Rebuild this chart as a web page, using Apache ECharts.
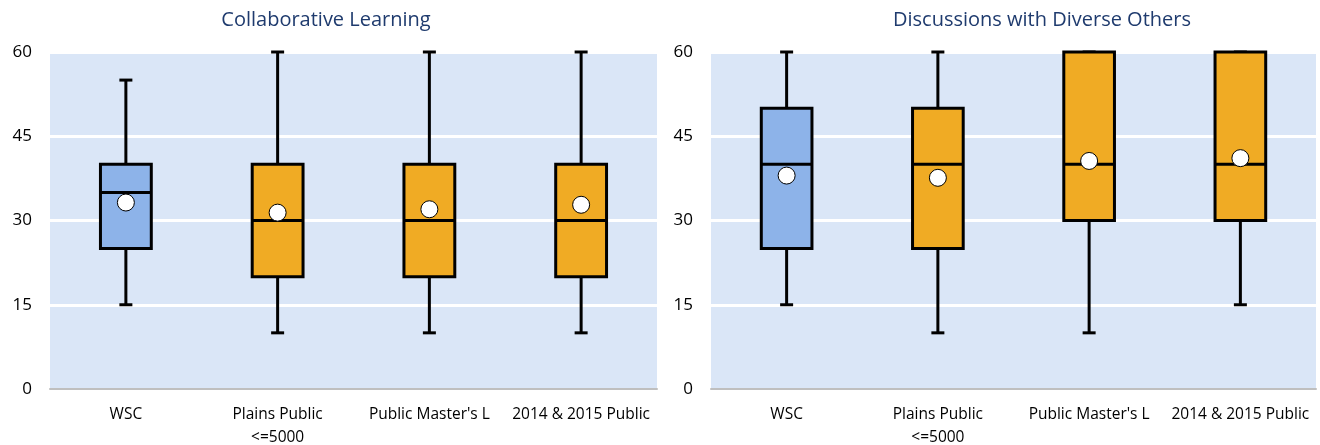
<!DOCTYPE html>
<html>
<head>
<meta charset="utf-8">
<title>Collaborative Learning / Discussions with Diverse Others</title>
<script src="https://cdn.jsdelivr.net/npm/echarts@6/dist/echarts.min.js"></script>
<style>
  html, body { margin: 0; padding: 0; background: #fff; }
  #chart { width: 1320px; height: 445px; }
</style>
</head>
<body>
<div id="chart"></div>
<script>
// Comparison groups shown on both panels
const categories = ['WSC', 'Plains Public\n<=5000', "Public Master's L", '2014 & 2015 Public'];

// Panel titles
const panelTitles = ['Collaborative Learning', 'Discussions with Diverse Others'];

// Box statistics per group: [low whisker, Q1, median, Q3, high whisker]
const collabStats = [
  [15, 25, 35, 40, 55],
  [10, 20, 30, 40, 60],
  [10, 20, 30, 40, 60],
  [10, 20, 30, 40, 60]
];
const collabMeans = [33.2, 31.4, 32.0, 32.8];

const diverseStats = [
  [15, 25, 40, 50, 60],
  [10, 25, 40, 50, 60],
  [10, 30, 40, 60, 60],
  [15, 30, 40, 60, 60]
];
const diverseMeans = [38.0, 37.6, 40.6, 41.1];

// Value axis ticks
const yMin = 0, yMax = 60, yStep = 15;

const FONT = '"Open Sans", "Noto Sans", sans-serif';
const BLUE = '#8DB3E9';
const ORANGE = '#F0AB24';
const LW = 3;

function boxRenderer(params, api) {
  const cat = api.value(0);
  const low = api.coord([cat, api.value(1)]);
  const q1 = api.coord([cat, api.value(2)]);
  const med = api.coord([cat, api.value(3)]);
  const q3 = api.coord([cat, api.value(4)]);
  const high = api.coord([cat, api.value(5)]);
  const band = api.size([1, 0])[0];
  const boxW = band * 0.335;
  const capW = 13;
  const x = med[0];
  const stroke = { stroke: '#000', lineWidth: LW };
  const fill = cat === 0 ? BLUE : ORANGE;
  return {
    type: 'group',
    children: [
      { type: 'line', shape: { x1: x, y1: low[1], x2: x, y2: q1[1] }, style: stroke },
      { type: 'line', shape: { x1: x, y1: q3[1], x2: x, y2: high[1] }, style: stroke },
      { type: 'line', shape: { x1: x - capW / 2, y1: low[1], x2: x + capW / 2, y2: low[1] }, style: stroke },
      { type: 'line', shape: { x1: x - capW / 2, y1: high[1], x2: x + capW / 2, y2: high[1] }, style: stroke },
      { type: 'rect', shape: { x: x - boxW / 2, y: q3[1], width: boxW, height: q1[1] - q3[1] },
        style: { fill: fill, stroke: '#000', lineWidth: LW } },
      { type: 'line', shape: { x1: x - boxW / 2, y1: med[1], x2: x + boxW / 2, y2: med[1] }, style: stroke }
    ]
  };
}

function boxData(stats) {
  return stats.map((s, i) => [i].concat(s));
}

const grids = [
  { left: 50, right: 663, top: 52, bottom: 56 },
  { left: 711, right: 4, top: 52, bottom: 56 }
];

const chart = echarts.init(document.getElementById('chart'), null, { renderer: 'canvas' });

const xAxes = grids.map((g, i) => ({
  type: 'category',
  gridIndex: i,
  data: categories,
  boundaryGap: true,
  axisLine: { show: true, lineStyle: { color: '#BFBFBF', width: 2 } },
  axisTick: { show: false },
  axisLabel: { color: '#000', fontSize: 15.5, fontFamily: FONT, margin: 14, lineHeight: 23, interval: 0 },
  splitLine: { show: false }
}));

const yAxes = grids.map((g, i) => ({
  type: 'value',
  gridIndex: i,
  min: yMin,
  max: yMax,
  interval: yStep,
  axisLine: { show: false },
  axisTick: { show: false },
  axisLabel: { color: '#000', fontSize: 17, fontFamily: FONT, margin: 18, padding: [0, 0, 4, 0] },
  splitLine: { show: true, lineStyle: { color: '#FFFFFF', width: 3 } }
}));

const meanStyle = { color: '#FFFFFF', borderColor: '#000', borderWidth: 1, opacity: 1 };

chart.setOption({
  animation: false,
  backgroundColor: '#fff',
  graphic: [
    { type: 'text', x: 326, y: 20, style: { text: panelTitles[0], fontSize: 20, fontFamily: FONT, fill: '#1F3B6E', align: 'center', verticalAlign: 'middle' } },
    { type: 'text', x: 1042, y: 20, style: { text: panelTitles[1], fontSize: 20, fontFamily: FONT, fill: '#1F3B6E', align: 'center', verticalAlign: 'middle' } }
  ],
  grid: grids.map(g => Object.assign({ show: true, backgroundColor: '#DAE6F7', borderWidth: 0, containLabel: false, outerBoundsMode: 'none' }, g)),
  xAxis: xAxes,
  yAxis: yAxes,
  series: [
    { type: 'custom', xAxisIndex: 0, yAxisIndex: 0, renderItem: boxRenderer, data: boxData(collabStats),
      encode: { x: 0, y: [1, 2, 3, 4, 5] }, clip: false, z: 2 },
    { type: 'scatter', xAxisIndex: 0, yAxisIndex: 0, data: collabMeans.map((m, i) => [i, m]),
      symbolSize: 17, itemStyle: meanStyle, z: 5 },
    { type: 'custom', xAxisIndex: 1, yAxisIndex: 1, renderItem: boxRenderer, data: boxData(diverseStats),
      encode: { x: 0, y: [1, 2, 3, 4, 5] }, clip: false, z: 2 },
    { type: 'scatter', xAxisIndex: 1, yAxisIndex: 1, data: diverseMeans.map((m, i) => [i, m]),
      symbolSize: 17, itemStyle: meanStyle, z: 5 }
  ]
});
</script>
</body>
</html>
